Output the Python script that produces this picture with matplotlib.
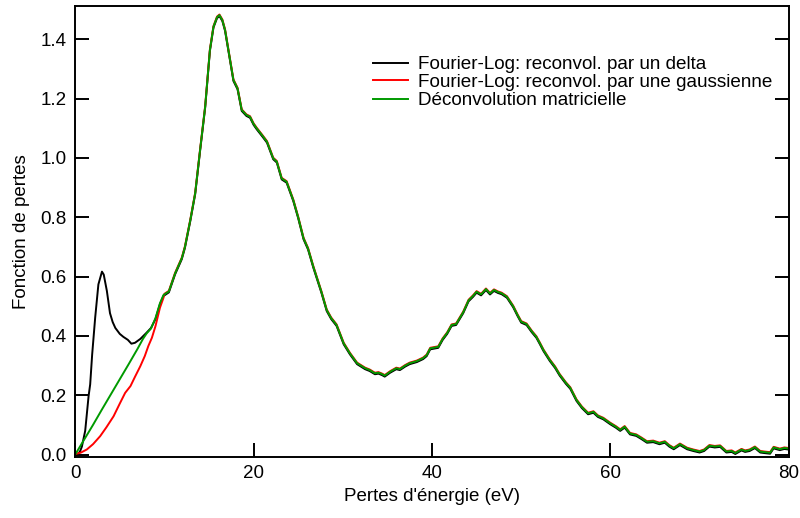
import matplotlib
matplotlib.use("Agg")
import matplotlib.pyplot as plt
import matplotlib.patheffects as pe
import numpy as np

plt.rcParams['font.family'] = ['Liberation Sans', 'DejaVu Sans']

# Low-energy part (differs between methods)
delta_x = [0, 0.4, 0.56, 0.75, 1.12, 1.5, 1.68, 1.9, 2.24, 2.6, 3.0, 3.2, 3.55, 3.9, 4.2, 4.5,
           5.0, 5.4, 5.9, 6.3, 6.7, 7.3, 8.0, 8.5, 9.0, 9.5, 9.9]
delta_y = [0, 0.008, 0.015, 0.03, 0.083, 0.2, 0.24, 0.34, 0.465, 0.577, 0.62, 0.61, 0.555, 0.48,
           0.45, 0.43, 0.41, 0.40, 0.39, 0.377, 0.38, 0.393, 0.414, 0.43, 0.46, 0.51, 0.538]

gauss_x = [0, 0.6, 1.3, 2.0, 2.8, 3.5, 4.3, 5.0, 5.6, 6.2, 6.7, 7.3, 7.8, 8.2, 8.6, 9.0, 9.5, 9.9]
gauss_y = [0, 0.004, 0.015, 0.033, 0.06, 0.09, 0.127, 0.17, 0.206, 0.229, 0.26, 0.296, 0.33,
           0.364, 0.392, 0.431, 0.493, 0.527]

matrix_x = [0, 1, 2, 3, 4, 5, 6, 7, 7.6, 8.0, 8.5, 9.0, 9.5, 9.9]
matrix_y = [0, 0.05, 0.1, 0.152, 0.203, 0.254, 0.305, 0.357, 0.39, 0.408, 0.425, 0.46, 0.51, 0.538]

# Common part (all three methods agree)
tail_x = [10.0, 10.5, 11.2, 11.95, 12.3, 12.9, 13.45, 14.0, 14.57, 15.1, 15.5, 15.9, 16.17, 16.5,
          16.8, 17.37, 17.74, 18.2, 18.67, 19.2, 19.6, 20.0, 20.35, 21.0, 21.5, 22.2, 22.6, 23.15,
          23.7, 24.45, 25.0, 25.6, 26.1, 26.7, 27.6, 28.2, 28.7, 29.3, 30.1, 30.8, 31.6, 32.5,
          33.0, 33.6, 34.0, 34.4, 34.7, 35.3, 36.0, 36.4, 37.0, 37.5, 38.3, 39.0, 39.4, 39.8,
          40.7, 41.2, 41.7, 42.2, 42.7, 43.1, 43.5, 44.1, 44.6, 45.0, 45.5, 46.05, 46.5, 46.95,
          47.4, 47.8, 48.4, 49.1, 49.6, 50.0, 50.6, 51.2, 51.7, 52.1, 52.5, 53.2, 53.8, 54.3,
          55.0, 55.5, 56.2, 56.8, 57.5, 58.1, 58.6, 59.2, 60.0, 60.6, 61.1, 61.6, 62.2, 62.9,
          63.5, 64.1, 64.8, 65.5, 66.1, 66.6, 67.1, 67.8, 68.6, 69.3, 70.0, 70.5, 71.1, 71.7,
          72.3, 73.0, 73.6, 74.0, 74.7, 75.1, 75.6, 76.2, 76.8, 77.3, 77.9, 78.3, 79.0, 79.5, 80.0]
tail_y = [0.540, 0.550, 0.611, 0.662, 0.700, 0.790, 0.881, 1.027, 1.173, 1.364, 1.443, 1.475,
          1.482, 1.465, 1.432, 1.330, 1.263, 1.235, 1.162, 1.145, 1.139, 1.115, 1.100, 1.075,
          1.055, 0.999, 0.988, 0.931, 0.920, 0.858, 0.800, 0.729, 0.695, 0.633, 0.549, 0.487,
          0.460, 0.437, 0.375, 0.341, 0.308, 0.291, 0.285, 0.274, 0.276, 0.271, 0.266, 0.279,
          0.291, 0.288, 0.300, 0.308, 0.315, 0.325, 0.335, 0.358, 0.363, 0.390, 0.410, 0.437,
          0.440, 0.460, 0.480, 0.520, 0.535, 0.549, 0.540, 0.558, 0.543, 0.555, 0.548, 0.544,
          0.532, 0.500, 0.470, 0.448, 0.440, 0.415, 0.397, 0.375, 0.352, 0.319, 0.295, 0.270,
          0.242, 0.225, 0.184, 0.160, 0.139, 0.144, 0.130, 0.122, 0.105, 0.094, 0.083, 0.094,
          0.071, 0.066, 0.055, 0.043, 0.045, 0.038, 0.043, 0.030, 0.021, 0.035, 0.021, 0.015,
          0.010, 0.015, 0.030, 0.027, 0.029, 0.010, 0.012, 0.005, 0.017, 0.012, 0.015, 0.025,
          0.010, 0.008, 0.006, 0.024, 0.018, 0.022, 0.020]

labels = ["Fourier-Log: reconvol. par un delta",
          "Fourier-Log: reconvol. par une gaussienne",
          "Déconvolution matricielle"]
colors = ["#000000", "#ff0000", "#009a00"]

fig = plt.figure(figsize=(8.0, 5.18), dpi=100)
ax = fig.add_axes([0.094, 0.118, 0.892, 0.8695])

series = [(delta_x, delta_y), (gauss_x, gauss_y), (matrix_x, matrix_y)]
offsets = [-0.7, 0.4, 0.0]
for (xs, ys), c, lab, off in zip(series, colors, labels, offsets):
    x = np.array(xs + tail_x)
    y = np.array(ys + tail_y)
    ax.plot(x, y, color=c, lw=1.4, label=lab,
            path_effects=[pe.Stroke(offset=(0, off))] if off else None)

ax.set_xlim(0, 80)
ax.set_ylim(-0.008, 1.511)
ax.set_xticks([0, 20, 40, 60, 80])
ax.set_yticks([0.0, 0.2, 0.4, 0.6, 0.8, 1.0, 1.2, 1.4])
ax.yaxis.set_major_formatter(matplotlib.ticker.FormatStrFormatter('%.1f'))
ax.tick_params(axis='both', direction='in', length=10, width=1.4, labelsize=13.5, pad=6)
ax.tick_params(axis='y', right=True, left=True)
for s in ax.spines.values():
    s.set_linewidth(1.4)

ax.set_xlabel("Pertes d'énergie (eV)", fontsize=13.5, labelpad=4)
ax.set_ylabel("Fonction de pertes", fontsize=13.5, labelpad=8)

ax.legend(loc='upper left', bbox_to_anchor=(0.418, 0.891), frameon=False, fontsize=13.6,
          handlelength=1.85, handletextpad=0.5, labelspacing=0.05, borderpad=0, borderaxespad=0)

fig.savefig("out.png", dpi=100)
